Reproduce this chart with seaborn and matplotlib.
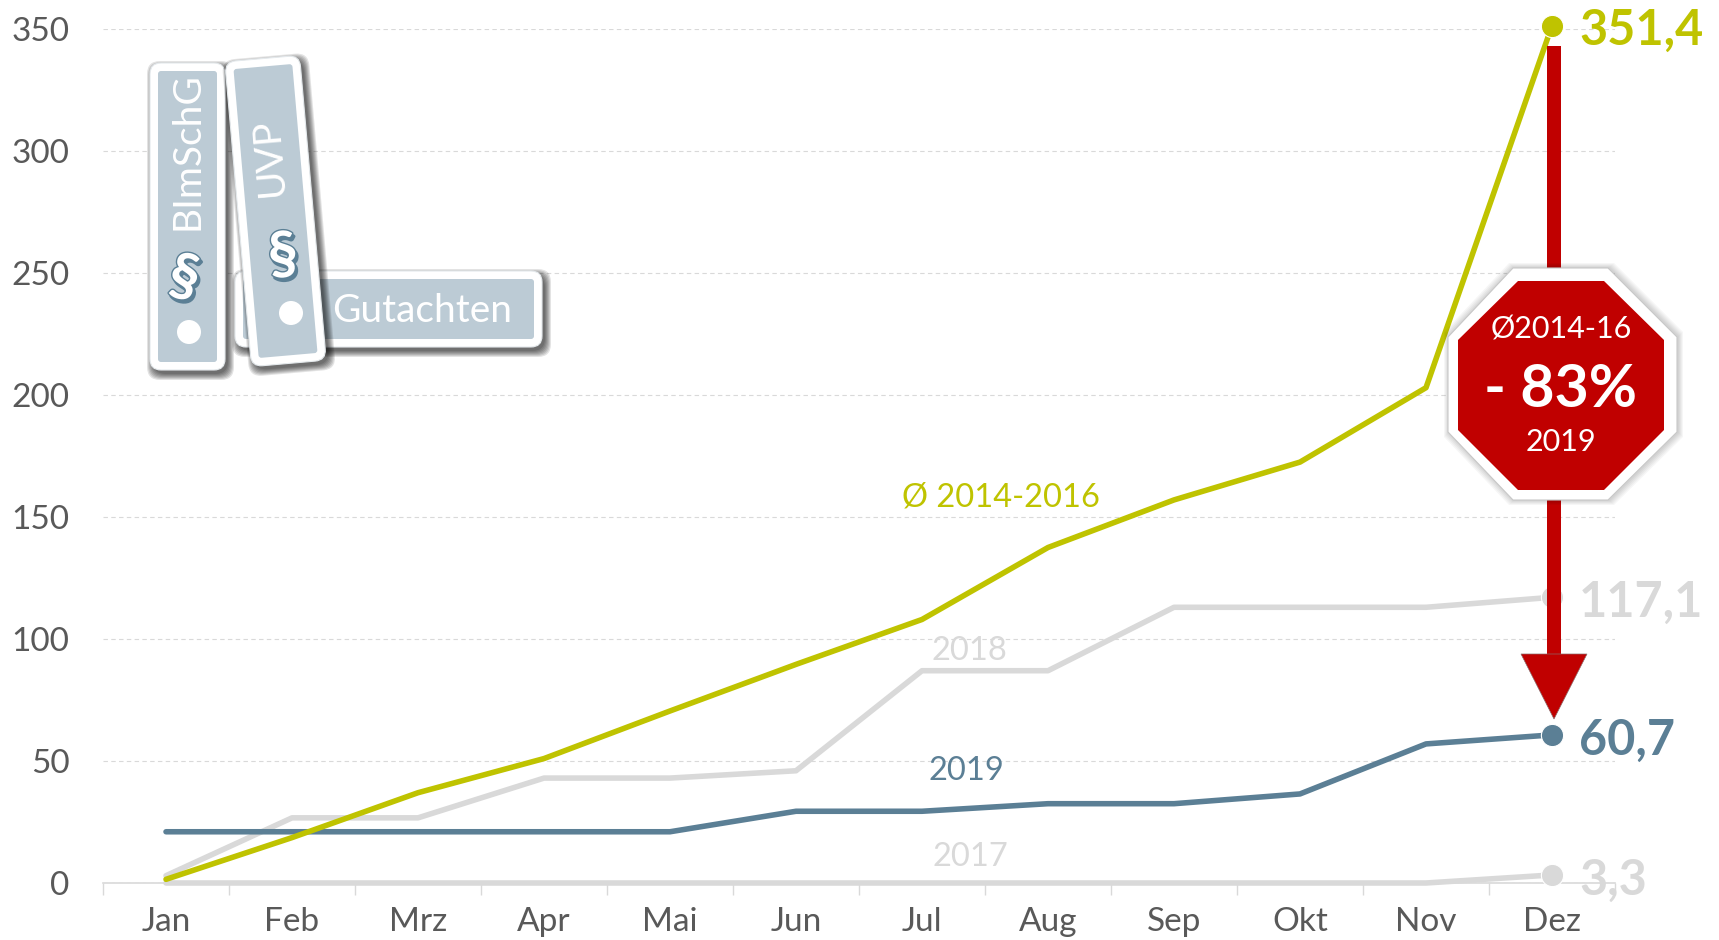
import numpy as np
import pandas as pd
import matplotlib.pyplot as plt
import matplotlib.patheffects as pe
import matplotlib.ticker as ticker
from matplotlib.patches import FancyBboxPatch, Polygon, Circle, Rectangle
from matplotlib.transforms import Affine2D
import seaborn as sns

# Data
months = ['Jan', 'Feb', 'Mrz', 'Apr', 'Mai', 'Jun', 'Jul', 'Aug', 'Sep', 'Okt', 'Nov', 'Dez']
avg_2014_16 = [1.5, 18.6, 37, 51, 70.5, 89.6, 108, 137.5, 157, 172.5, 203, 351.4]
y2017 = [0, 0, 0, 0, 0, 0, 0, 0, 0, 0, 0, 3.3]
y2018 = [3, 26.7, 26.7, 43, 43, 46, 87, 87, 113, 113, 113, 117.1]
y2019 = [21, 21, 21, 21, 21, 29.4, 29.4, 32.5, 32.5, 36.5, 57, 60.7]
yticks = [0, 50, 100, 150, 200, 250, 300, 350]

YELLOW = '#BFC300'
BLUE = '#5B7F95'
GRAY = '#D9D9D9'
RED = '#C00000'
TEXT = '#595959'
BINDER = '#BCCBD5'

df = pd.DataFrame({
    'month': months * 4,
    'value': y2017 + y2018 + y2019 + avg_2014_16,
    'series': ['2017'] * 12 + ['2018'] * 12 + ['2019'] * 12 + ['avg'] * 12,
})
palette = {'2017': GRAY, '2018': GRAY, '2019': BLUE, 'avg': YELLOW}

sns.set_theme(style='white')
plt.rcParams['font.family'] = ['Lato', 'DejaVu Sans']

W, H = 1719, 940
fig = plt.figure(figsize=(W / 100, H / 100), dpi=100)
ax = fig.add_axes([103 / W, 1 - 883 / H, (1615 - 103) / W, (883 - 29) / H])

# --- Lines ---
sns.lineplot(data=df, x='month', y='value', hue='series', palette=palette, estimator=None,
             linewidth=4, legend=False, ax=ax, solid_capstyle='round', clip_on=False, zorder=3)

# --- End points and labels ---
ends = [(y2017[-1], GRAY), (y2018[-1], GRAY), (y2019[-1], BLUE), (avg_2014_16[-1], YELLOW)]
for val, col in ends:
    ax.plot([months[-1]], [val], 'o', ms=16, color=col, mec='white', mew=0.8, clip_on=False, zorder=4)
    ax.annotate(f'{val:.1f}'.replace('.', ','), (11, val), xytext=(27, -5),
                textcoords='offset pixels', fontsize=35, fontweight='bold', color=col,
                va='center', ha='left', annotation_clip=False, zorder=5)

ax.set_xlim(-0.5, 11.5)
ax.set_ylim(0, 350)
ax.set_xlabel('')
ax.set_ylabel('')
ax.set_yticks(yticks)
ax.xaxis.set_minor_locator(ticker.FixedLocator(np.arange(-0.5, 12)))
ax.tick_params(axis='x', which='major', length=0, pad=17, labelsize=24, labelcolor=TEXT)
ax.tick_params(axis='x', which='minor', length=8.5, width=1, color=GRAY, bottom=True)
ax.tick_params(axis='y', length=0, pad=24, labelsize=24, labelcolor=TEXT)
ax.grid(axis='y', color=GRAY, linestyle=(0, (4, 3)), linewidth=0.8)
ax.set_axisbelow(True)
sns.despine(ax=ax, left=True, top=True, right=True)
ax.spines['bottom'].set_color(GRAY)
ax.spines['bottom'].set_linewidth(1.2)

# Series labels
ax.text(6.63, 158, 'Ø 2014-2016', color=YELLOW, fontsize=23.5, ha='center', va='center')
ax.text(6.38, 95, '2018', color=GRAY, fontsize=23.5, ha='center', va='center')
ax.text(6.35, 46, '2019', color=BLUE, fontsize=23.5, ha='center', va='center')
ax.text(6.38, 10.7, '2017', color=GRAY, fontsize=23.5, ha='center', va='center')

# --- Overlay in pixel coordinates for the pictograms ---
ov = fig.add_axes([0, 0, 1, 1], zorder=10)
ov.set_xlim(0, W)
ov.set_ylim(H, 0)
ov.axis('off')
ov.patch.set_alpha(0)


def binder(x0, y0, x1, y1, angle=0, z=1):
    cx, cy = (x0 + x1) / 2, (y0 + y1) / 2
    rot = Affine2D().rotate_deg_around(cx, cy, angle) + ov.transData
    # soft shadow made of stacked translucent shapes
    for i in range(7):
        g = 6 - i
        s = FancyBboxPatch((x0 + 3 - g, y0 + 4 - g), x1 - x0 + 2 * g, y1 - y0 + 2 * g,
                           boxstyle='round,pad=0,rounding_size=13', fc='black', ec='none',
                           alpha=0.11, transform=rot, zorder=z)
        ov.add_patch(s)
    ov.add_patch(FancyBboxPatch((x0, y0), x1 - x0, y1 - y0, boxstyle='round,pad=0,rounding_size=11',
                                fc='white', ec='#E4E9EC', lw=0.8, transform=rot, zorder=z + 0.1))
    ov.add_patch(FancyBboxPatch((x0 + 8, y0 + 8), x1 - x0 - 16, y1 - y0 - 16,
                                boxstyle='round,pad=0,rounding_size=3', fc=BINDER, ec='none',
                                transform=rot, zorder=z + 0.2))


def para(x, y, rotation, z):
    # blue copy behind gives the raised look of the paragraph sign
    ov.text(x + 2, y + 3, '§', fontsize=43, fontweight='bold', color=BLUE, rotation=rotation,
            ha='center', va='center', zorder=z,
            path_effects=[pe.withStroke(linewidth=2, foreground=BLUE)])
    ov.text(x, y, '§', fontsize=43, fontweight='bold', color='white', rotation=rotation,
            ha='center', va='center', zorder=z,
            path_effects=[pe.withStroke(linewidth=2, foreground=BLUE)])


# Gutachten (lying), BImSchG and UVP (standing)
binder(235, 271, 542, 347, 0, z=1)
ov.text(422, 311, 'Gutachten', color='white', fontsize=28, ha='center', va='center', zorder=1.5)
binder(150, 63, 225, 370, 0, z=2)
ov.text(187, 151, 'BImSchG', color='white', fontsize=28, rotation=90, ha='center', va='center', zorder=2.5)
para(184, 279, -12, 2.5)
ov.add_patch(Circle((189, 332), 12, fc='white', ec='none', zorder=2.5))
binder(238, 58, 313, 364, -5, z=3)
ov.text(269, 157, 'UVP', color='white', fontsize=28, rotation=95, ha='center', va='center', zorder=3.5)
para(283, 257, 5, 3.5)
ov.add_patch(Circle((291, 313), 12, fc='white', ec='none', zorder=3.5))

# Arrow
ov.add_patch(Rectangle((1547, 46), 14, 610, fc=RED, ec='none', zorder=4))
ov.add_patch(Polygon([(1521, 654), (1587, 654), (1554, 719)], closed=True, fc=RED,
                     ec='#8A6A6A', lw=0.5, zorder=4))

# Stop sign
outer = [(1513, 268), (1608, 268), (1677, 337), (1677, 432), (1608, 500), (1513, 500), (1448, 432), (1448, 337)]
inner = [(1518, 281), (1604, 281), (1664, 340), (1664, 430), (1604, 490), (1518, 490), (1458, 430), (1458, 340)]
for i in range(5):
    g = 5 - i
    shadow = [(x + (g if x > 1560 else -g) + 1, y + (g if y > 385 else -g)) for x, y in outer]
    ov.add_patch(Polygon(shadow, closed=True, fc='black', ec='none', alpha=0.035, zorder=5))
ov.add_patch(Polygon(outer, closed=True, fc='white', ec='#C8C8C8', lw=0.8, zorder=5.1))
ov.add_patch(Polygon(inner, closed=True, fc=RED, ec='none', zorder=5.2))
ov.text(1561, 330, 'Ø2014-16', color='white', fontsize=22, ha='center', va='center', zorder=6)
ov.text(1561, 390, '- 83%', color='white', fontsize=42.5, fontweight='bold', ha='center', va='center', zorder=6)
ov.text(1561, 442, '2019', color='white', fontsize=22, ha='center', va='center', zorder=6)

fig.savefig('out.png', dpi=100)
